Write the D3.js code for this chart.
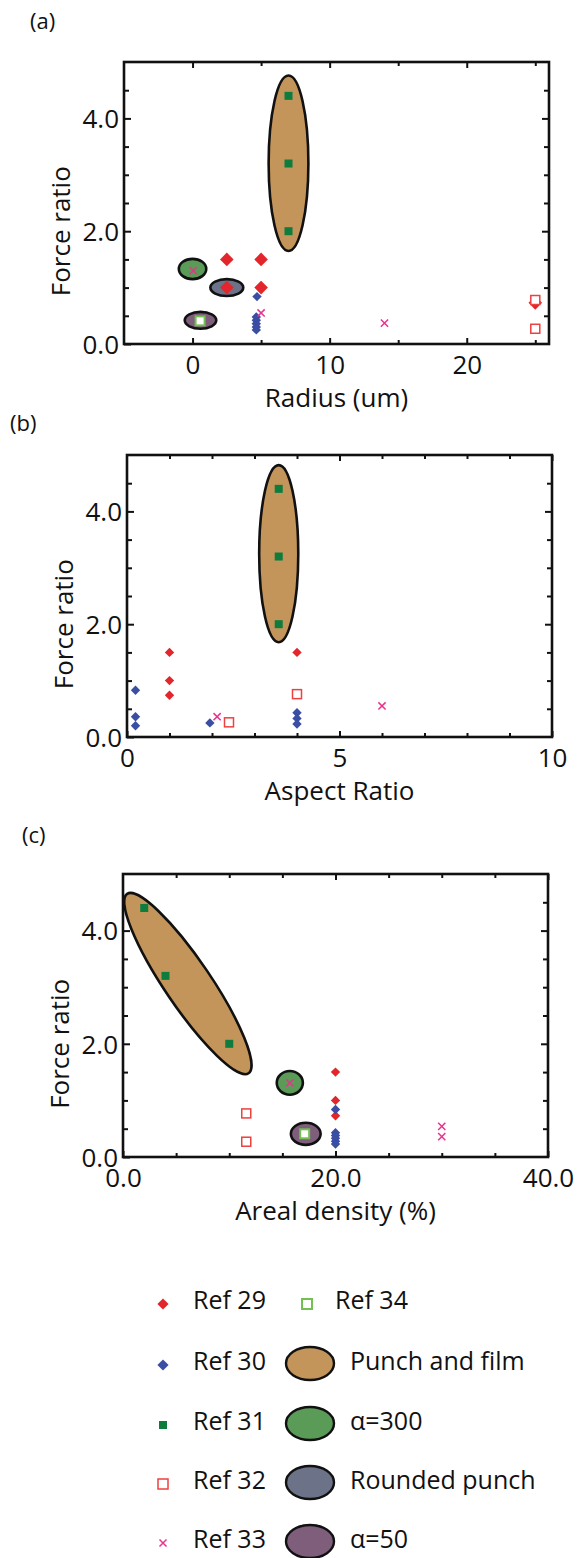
<!doctype html>
<html>
<head>
  <style>
    body { margin: 0; background: #fff; }
    svg { display: block; }
    text { font-family: "Open Sans", "Noto Sans", sans-serif; fill: #111; }
  </style>
  <script src="https://cdn.jsdelivr.net/npm/d3@7"></script>
</head>
<body>
<script>
// ---- data: [x, force ratio] pairs ----
var forceTicks = [0, 2, 4];
var forceTickLabels = ["0.0", "2.0", "4.0"];

// (a) radius
var radiusRef29 = [[2.5, 1.5], [5, 1.5], [2.5, 1.0], [5, 1.0], [25, 0.73]];
var radiusRef30 = [[4.7, 0.84], [4.65, 0.48], [4.65, 0.42], [4.65, 0.36], [4.65, 0.30], [4.65, 0.25]];
var radiusRef31 = [[7, 4.4], [7, 3.2], [7, 2.0]];
var radiusRef32 = [[25, 0.78], [25, 0.27]];
var radiusRef33 = [[0.05, 1.3], [5, 0.55], [14, 0.37]];
var radiusRef34 = [[0.55, 0.41]];
var radiusTicks = [0, 10, 20];
var radiusTickLabels = ["0", "10", "20"];

// (b) aspect ratio
var aspectRef29 = [[1, 1.5], [1, 1.0], [1, 0.74], [4, 1.5]];
var aspectRef30 = [[0.2, 0.83], [0.2, 0.36], [0.2, 0.2], [1.95, 0.25], [4, 0.43], [4, 0.33], [4, 0.23]];
var aspectRef31 = [[3.57, 4.4], [3.57, 3.2], [3.57, 2.0]];
var aspectRef32 = [[2.4, 0.26], [4, 0.76]];
var aspectRef33 = [[2.12, 0.36], [6, 0.55]];
var aspectRef34 = [];
var aspectTicks = [0, 5, 10];
var aspectTickLabels = ["0", "5", "10"];

// (c) areal density
var densityRef29 = [[20, 1.5], [20, 1.0], [20, 0.73]];
var densityRef30 = [[20, 0.84], [20, 0.43], [20, 0.38], [20, 0.33], [20, 0.28], [20, 0.23]];
var densityRef31 = [[2, 4.4], [4, 3.2], [10, 2.0]];
var densityRef32 = [[11.6, 0.77], [11.6, 0.27]];
var densityRef33 = [[15.7, 1.31], [30, 0.54], [30, 0.36]];
var densityRef34 = [[17.1, 0.41]];
var densityTicks = [0, 20, 40];
var densityTickLabels = ["0.0", "20.0", "40.0"];

// grouping ellipses, in data units: x range, y range (or major axis ends)
var radiusGroups = [
  {name: "Punch and film", x: [5.55, 8.45], y: [1.65, 4.76]},
  {name: "α=300", x: [-1.0, 1.0], y: [1.15, 1.51]},
  {name: "Rounded punch", x: [1.3, 3.7], y: [0.85, 1.15]},
  {name: "α=50", x: [-0.57, 1.73], y: [0.27, 0.57]}
];
var aspectGroups = [
  {name: "Punch and film", x: [3.11, 4.03], y: [1.68, 4.82]}
];
var densityGroups = [
  {name: "Punch and film", ends: [[0.39, 4.65], [11.82, 1.48]]},
  {name: "α=300", x: [14.47, 16.93], y: [1.10, 1.52]},
  {name: "α=50", x: [15.8, 18.6], y: [0.215, 0.605]}
];

var refNames = ["Ref 29", "Ref 30", "Ref 31", "Ref 32", "Ref 33", "Ref 34"];
var groupNames = ["Punch and film", "α=300", "Rounded punch", "α=50"];

// ---- styles ----
var groupFill = {"Punch and film": "#c4955a", "α=300": "#5b9b58", "Rounded punch": "#6c7389", "α=50": "#7e5e7b"};
var red = "#e3262b", blue = "#3a4ea3", dgreen = "#0d7c3d", sqRed = "#ee4040", pink = "#e8338e", lgreen = "#72bf52";

var svg = d3.select("body").append("svg")
  .attr("width", 583)
  .attr("height", 1558);

function diamond(r) { return "M0," + (-r) + "L" + r + ",0L0," + r + "L" + (-r) + ",0Z"; }
function cross(r) { return "M" + (-r) + "," + (-r) + "L" + r + "," + r + "M" + (-r) + "," + r + "L" + r + "," + (-r); }

function drawPanel(p) {
  var w = p.box[2] - p.box[0], h = p.box[3] - p.box[1];
  var g = svg.append("g").attr("transform", "translate(" + p.box[0] + "," + p.box[1] + ")");
  var x = d3.scaleLinear().domain(p.xDomain).range([0, w]);
  var y = d3.scaleLinear().domain([0, 5]).range([h, 0]);

  var xAll = d3.range(p.xDomain[0], p.xDomain[1] + 0.001, p.xStep).filter(function(d) { return d > p.xDomain[0]; });
  var yAll = d3.range(0.5, 5, 0.5);
  var isXMaj = function(d) { return p.xTicks.indexOf(d) >= 0; };
  var isYMaj = function(d) { return forceTicks.indexOf(d) >= 0; };

  // bottom axis with labels
  var bottom = g.append("g").attr("transform", "translate(0," + h + ")")
    .call(d3.axisBottom(x).tickValues(xAll.concat(p.xTicks.filter(function(d){ return xAll.indexOf(d) < 0; })))
      .tickSize(0)
      .tickFormat(function(d) { var i = p.xTicks.indexOf(d); return i >= 0 ? p.xTickLabels[i] : ""; }));
  bottom.selectAll("line").attr("y2", function(d) { return isXMaj(d) ? -6 : -4; });
  bottom.selectAll("text").attr("y", 10).attr("dy", "0.76em").style("font-size", "26px").attr("fill", "#111");

  var top = g.append("g")
    .call(d3.axisTop(x).tickValues(xAll).tickSize(0).tickFormat(""));
  top.selectAll("line").attr("y2", function(d) { return isXMaj(d) ? 6 : 4; });

  var left = g.append("g")
    .call(d3.axisLeft(y).tickValues([0].concat(yAll)).tickSize(0)
      .tickFormat(function(d) { var i = forceTicks.indexOf(d); return i >= 0 ? forceTickLabels[i] : ""; }));
  left.selectAll("line").attr("x2", function(d) { return isYMaj(d) ? 7 : 5; });
  left.selectAll("text").attr("x", -5).attr("dy", "0.36em").style("font-size", "26px").attr("fill", "#111");

  var right = g.append("g").attr("transform", "translate(" + w + ",0)")
    .call(d3.axisRight(y).tickValues(yAll).tickSize(0).tickFormat(""));
  right.selectAll("line").attr("x2", function(d) { return isYMaj(d) ? -7 : -5; });

  g.selectAll(".domain").remove();
  g.selectAll(".tick line").attr("stroke", "#111").attr("stroke-width", 2);

  g.append("rect").attr("width", w).attr("height", h)
    .attr("fill", "none").attr("stroke", "#111").attr("stroke-width", 2.6);

  // group ellipses
  p.groups.forEach(function(e) {
    var el = g.append("ellipse")
      .attr("fill", groupFill[e.name]).attr("stroke", "#111").attr("stroke-width", 2.6);
    if (e.ends) {
      var x1 = x(e.ends[0][0]), y1 = y(e.ends[0][1]), x2 = x(e.ends[1][0]), y2 = y(e.ends[1][1]);
      var a = Math.hypot(x2 - x1, y2 - y1) / 2;
      var ang = Math.atan2(y2 - y1, x2 - x1) * 180 / Math.PI;
      el.attr("rx", a).attr("ry", 23)
        .attr("transform", "translate(" + (x1 + x2) / 2 + "," + (y1 + y2) / 2 + ") rotate(" + ang + ")");
    } else {
      el.attr("cx", (x(e.x[0]) + x(e.x[1])) / 2).attr("cy", (y(e.y[0]) + y(e.y[1])) / 2)
        .attr("rx", (x(e.x[1]) - x(e.x[0])) / 2).attr("ry", (y(e.y[0]) - y(e.y[1])) / 2);
    }
  });

  function pos(d) { return "translate(" + x(d[0]) + "," + y(d[1]) + ")"; }

  g.selectAll(".r29").data(p.ref29).enter().append("path")
    .attr("transform", pos).attr("d", diamond(p.bigRed ? 6.8 : 4.7)).attr("fill", red);
  g.selectAll(".r30").data(p.ref30).enter().append("path")
    .attr("transform", pos).attr("d", diamond(4.7)).attr("fill", blue);
  g.selectAll(".r31").data(p.ref31).enter().append("rect")
    .attr("transform", pos).attr("x", -4).attr("y", -4).attr("width", 8).attr("height", 8).attr("fill", dgreen);
  g.selectAll(".r32").data(p.ref32).enter().append("rect")
    .attr("transform", pos).attr("x", -4.5).attr("y", -4.5).attr("width", 9).attr("height", 9)
    .attr("fill", "#fff").attr("stroke", sqRed).attr("stroke-width", 1.5);
  g.selectAll(".r33").data(p.ref33).enter().append("path")
    .attr("transform", pos).attr("d", cross(3.6)).attr("fill", "none").attr("stroke", pink).attr("stroke-width", 1.5);
  g.selectAll(".r34").data(p.ref34).enter().append("rect")
    .attr("transform", pos).attr("x", -4.5).attr("y", -4.5).attr("width", 9).attr("height", 9)
    .attr("fill", "#fff").attr("stroke", lgreen).attr("stroke-width", 2);

  // axis titles + panel letter
  g.append("text").attr("x", w / 2).attr("y", h + 63).attr("text-anchor", "middle")
    .style("font-size", "26px").text(p.xTitle);
  g.append("text").attr("transform", "translate(-54," + y(2) + ") rotate(-90)").attr("text-anchor", "middle")
    .style("font-size", "26px").text("Force ratio");
  svg.append("text").attr("x", p.letterPos[0]).attr("y", p.letterPos[1])
    .style("font-size", "22px").text(p.letter);
}

drawPanel({letter: "(a)", letterPos: [30, 29], box: [124, 62, 549, 344], xDomain: [-5, 26], xStep: 5,
  xTicks: radiusTicks, xTickLabels: radiusTickLabels, xTitle: "Radius (um)", bigRed: true,
  ref29: radiusRef29, ref30: radiusRef30, ref31: radiusRef31, ref32: radiusRef32, ref33: radiusRef33, ref34: radiusRef34,
  groups: radiusGroups});
drawPanel({letter: "(b)", letterPos: [10, 431], box: [127, 455, 552, 737], xDomain: [0, 10], xStep: 1,
  xTicks: aspectTicks, xTickLabels: aspectTickLabels, xTitle: "Aspect Ratio",
  ref29: aspectRef29, ref30: aspectRef30, ref31: aspectRef31, ref32: aspectRef32, ref33: aspectRef33, ref34: aspectRef34,
  groups: aspectGroups});
drawPanel({letter: "(c)", letterPos: [22, 843], box: [123, 874, 548, 1157], xDomain: [0, 40], xStep: 5,
  xTicks: densityTicks, xTickLabels: densityTickLabels, xTitle: "Areal density (%)",
  ref29: densityRef29, ref30: densityRef30, ref31: densityRef31, ref32: densityRef32, ref33: densityRef33, ref34: densityRef34,
  groups: densityGroups});

// ---- legend ----
var legRows = [1304, 1365, 1425, 1484, 1543];
var leg = svg.append("g");
var refMarks = [
  function(s) { s.append("path").attr("d", diamond(5.6)).attr("fill", red); },
  function(s) { s.append("path").attr("d", diamond(5.6)).attr("fill", blue); },
  function(s) { s.append("rect").attr("x", -4).attr("y", -4).attr("width", 8).attr("height", 8).attr("fill", dgreen); },
  function(s) { s.append("rect").attr("x", -5).attr("y", -5).attr("width", 10).attr("height", 10)
    .attr("fill", "#fff").attr("stroke", sqRed).attr("stroke-width", 1.5); },
  function(s) { s.append("path").attr("d", cross(3.5)).attr("fill", "none").attr("stroke", pink).attr("stroke-width", 1.5); },
  function(s) { s.append("rect").attr("x", -5).attr("y", -5).attr("width", 10).attr("height", 10)
    .attr("fill", "#fff").attr("stroke", lgreen).attr("stroke-width", 2); }
];
refNames.forEach(function(name, i) {
  var mx = i < 5 ? 163 : 307, tx = i < 5 ? 193 : 335, ry = i < 5 ? legRows[i] : legRows[0];
  var s = leg.append("g").attr("transform", "translate(" + mx + "," + ry + ")");
  refMarks[i](s);
  leg.append("text").attr("x", tx).attr("y", ry + 5).style("font-size", "25px").text(name);
});
groupNames.forEach(function(name, i) {
  var ry = legRows[i + 1] - 1.5;
  leg.append("ellipse").attr("cx", 310).attr("cy", ry).attr("rx", 24).attr("ry", 16.5)
    .attr("fill", groupFill[name]).attr("stroke", "#111").attr("stroke-width", 2.4);
  leg.append("text").attr("x", 350).attr("y", legRows[i + 1] + 5).style("font-size", "25px").text(name);
});
</script>
</body>
</html>
